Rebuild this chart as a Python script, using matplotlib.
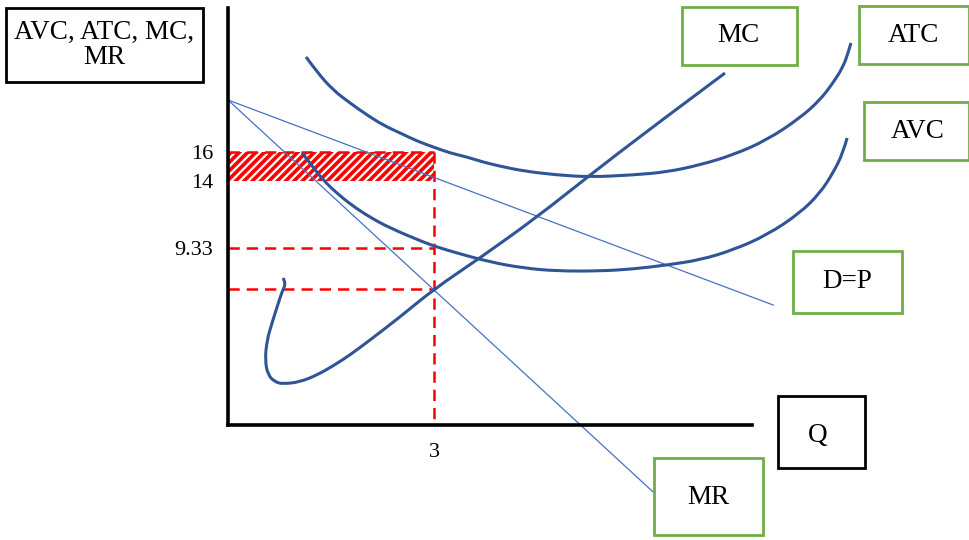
import numpy as np
import matplotlib.pyplot as plt
from matplotlib.patches import Rectangle, PathPatch
from matplotlib.path import Path

plt.rcParams['font.family'] = ['Liberation Serif', 'DejaVu Serif']
plt.rcParams['hatch.linewidth'] = 2.6

# curves (q, price)
mc_q = [0.801, 0.845, 0.786, 0.714, 0.641, 0.568, 0.539, 0.582, 0.684, 0.801, 1.049, 1.296, 1.529, 1.776, 2.068,
        2.505, 3.0, 3.670, 4.500, 5.272, 6.145, 7.237]
mc_p = [7.28, 6.93, 6.31, 5.26, 4.15, 2.97, 1.58, 0.54, 0.06, -0.08, 0.06, 0.54, 1.17, 1.93, 2.97,
        4.57, 6.51, 8.67, 11.51, 14.43, 17.63, 21.51]

atc_q = [1.136, 1.296, 1.529, 1.777, 2.024, 2.257, 2.505, 2.752, 2.985, 3.233, 3.480, 3.713, 3.946,
         4.296, 4.791, 5.272, 5.898, 6.393, 6.874, 7.354, 7.849, 8.330, 8.621, 8.810, 8.956, 9.029, 9.072]
atc_p = [22.63, 21.58, 20.33, 19.43, 18.60, 17.90, 17.35, 16.79, 16.38, 15.96, 15.68, 15.33, 15.06,
         14.71, 14.43, 14.29, 14.43, 14.64, 15.13, 15.82, 16.86, 18.39, 19.64, 20.82, 21.93, 22.90, 23.60]

avc_q = [1.078, 1.194, 1.383, 1.631, 1.879, 2.112, 2.359, 2.840, 3.044, 3.335, 3.815, 4.296, 4.791,
         5.417, 5.898, 6.393, 6.874, 7.354, 7.849, 8.330, 8.621, 8.810, 8.956, 9.015]
avc_p = [15.96, 15.26, 14.08, 12.97, 12.07, 11.38, 10.75, 9.78, 9.43, 9.01, 8.39, 7.97, 7.76,
         7.76, 7.90, 8.18, 8.53, 9.22, 10.26, 11.79, 13.18, 14.57, 15.96, 17.0]

d_q = [0, 7.94]
d_p = [19.64, 5.40]
mr_q = [0, 6.19]
mr_p = [19.64, -7.58]

q_star = 3
p_high, p_low = 16, 14
p_avc = 9.33
p_mc = 6.51

y_ticks = [16, 14, 9.33]
y_ticklabels = ['16', '14', '9.33']
x_ticks = [3]
x_ticklabels = ['3']

# label boxes in pixel coords (x0, y0, x1, y1), text centre, colour, size
boxes = [
    ('AVC, ATC, MC,\nMR', (6, 8, 203, 82), (104, 45), 'black', 19.5),
    ('MC', (682, 7, 797, 65), (738, 36), '#70AD47', 19.5),
    ('ATC', (859, 6, 969, 64), (913, 36), '#70AD47', 19.5),
    ('AVC', (864, 102, 969, 160), (918, 131), '#70AD47', 19.5),
    ('D=P', (793, 251, 902, 313), (847, 282), '#70AD47', 19.5),
    ('Q', (778, 396, 865, 468), (818, 436), 'black', 19.5),
    ('MR', (654, 458, 763, 535), (708, 498), '#70AD47', 19.5),
]


def smooth_curve(xs, ys):
    # quadratic bezier chain: read points act as control points
    pts = list(zip(xs, ys))
    verts = [pts[0]]
    codes = [Path.MOVETO]
    for i in range(1, len(pts) - 1):
        if i == len(pts) - 2:
            end = pts[-1]
        else:
            end = ((pts[i][0] + pts[i + 1][0]) / 2, (pts[i][1] + pts[i + 1][1]) / 2)
        verts += [pts[i], end]
        codes += [Path.CURVE3, Path.CURVE3]
    return Path(verts, codes)


W, H = 970, 540
fig = plt.figure(figsize=(W / 100, H / 100), dpi=100)
ax = fig.add_axes([0, 0, 1, 1])
ax.set_xlim(-3.320, 10.805)
ax.set_ylim(-10.917, 26.583)
ax.patch.set_alpha(0)

y_bottom, y_top = -2.93, 26.03
ax.spines['top'].set_visible(False)
ax.spines['right'].set_visible(False)
ax.spines['left'].set_position(('data', 0))
ax.spines['left'].set_bounds(y_bottom, y_top)
ax.spines['bottom'].set_position(('data', y_bottom))
ax.spines['bottom'].set_bounds(0, 7.63)
for s in ('left', 'bottom'):
    ax.spines[s].set_linewidth(2.6)
    ax.spines[s].set_zorder(5)

ax.set_yticks(y_ticks, y_ticklabels)
ax.set_xticks(x_ticks, x_ticklabels)
ax.tick_params(axis='y', length=0, pad=10.5, labelsize=16)
ax.tick_params(axis='x', length=0, pad=13, labelsize=16)

# loss rectangle
ax.add_patch(Rectangle((0, p_low), q_star, p_high - p_low, facecolor='white',
                       edgecolor='red', hatch='////', linewidth=0, zorder=1))
dash = (0, (4.5, 2.8))
ax.plot([0, q_star], [p_high, p_high], color='red', lw=1.8, ls=dash, zorder=2)
ax.plot([q_star, q_star], [p_high, y_bottom], color='red', lw=1.8, ls=dash, zorder=2)
ax.plot([0, q_star], [p_avc, p_avc], color='red', lw=1.8, ls=dash, zorder=2)
ax.plot([0, q_star], [p_mc, p_mc], color='red', lw=1.8, ls=dash, zorder=2)

thick = '#2F5597'
thin = '#4472C4'
ax.plot(d_q, d_p, color=thin, lw=0.9, zorder=3)
ax.plot(mr_q, mr_p, color=thin, lw=0.9, zorder=3)
for cq, cp in ((atc_q, atc_p), (avc_q, avc_p), (mc_q, mc_p)):
    ax.add_patch(PathPatch(smooth_curve(cq, cp), facecolor='none', edgecolor=thick,
                           lw=2.2, zorder=3, capstyle='butt', joinstyle='round'))

for text, (x0, y0, x1, y1), (tx, ty), col, fs in boxes:
    fig.patches.append(Rectangle((x0 / W, 1 - y1 / H), (x1 - x0) / W, (y1 - y0) / H,
                                 transform=fig.transFigure, facecolor='white',
                                 edgecolor=col, linewidth=2.0, zorder=6))
    fig.text(tx / W, 1 - ty / H, text, ha='center', va='center', fontsize=fs,
             linespacing=1.0, zorder=7)

fig.savefig('out.png', dpi=100)
